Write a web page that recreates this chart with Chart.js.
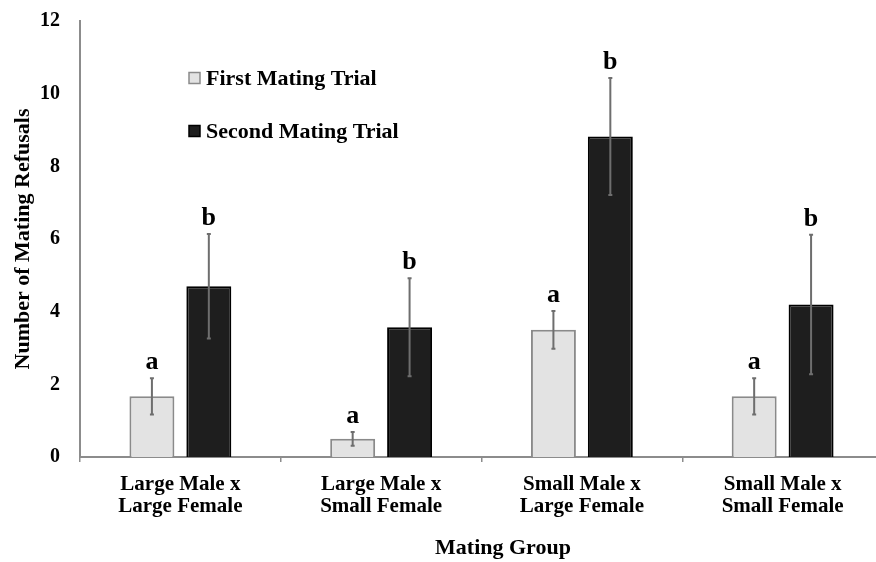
<!DOCTYPE html>
<html>
<head>
<meta charset="utf-8">
<script src="https://cdn.jsdelivr.net/npm/chart.js@4.4.0/dist/chart.umd.min.js"></script>
<style>
  html, body { margin: 0; padding: 0; background: #fff; overflow: hidden; }
  #wrap { width: 884px; height: 562px; position: relative; }
</style>
</head>
<body>
<div id="wrap"><canvas id="graph"></canvas></div>
<script>
// mating groups (two line labels)
var groups = [
  ["Large Male x", "Large Female"],
  ["Large Male x", "Small Female"],
  ["Small Male x", "Large Female"],
  ["Small Male x", "Small Female"]
];
// mean refusals
var firstTrial = [1.67, 0.5, 3.5, 1.67];
var secondTrial = [4.7, 3.57, 8.82, 4.2];
// error bar half lengths
var firstErr = [0.5, 0.19, 0.52, 0.5];
var secondErr = [1.44, 1.35, 1.61, 1.92];
// significance letters
var firstLetters = ["a", "a", "a", "a"];
var secondLetters = ["b", "b", "b", "b"];
var yTicks = [0, 2, 4, 6, 8, 10, 12];

var serif = '"Liberation Serif", "Times New Roman", serif';
var errs = [firstErr, secondErr];
var letters = [firstLetters, secondLetters];

//draws error bars + letters above them
const errorBars = {
  id: "errorBars",
  afterDatasetsDraw(chart) {
    const ctx = chart.ctx;
    const ys = chart.scales.y;
    ctx.save();
    chart.data.datasets.forEach((ds, di) => {
      const meta = chart.getDatasetMeta(di);
      meta.data.forEach((bar, i) => {
        const v = ds.data[i];
        const top = ys.getPixelForValue(v + errs[di][i]);
        const bot = ys.getPixelForValue(v - errs[di][i]);
        ctx.strokeStyle = "#6e6e6e";
        ctx.lineWidth = 2;
        ctx.beginPath();
        ctx.moveTo(bar.x, top); ctx.lineTo(bar.x, bot);
        ctx.moveTo(bar.x - 2, top); ctx.lineTo(bar.x + 2, top);
        ctx.moveTo(bar.x - 2, bot); ctx.lineTo(bar.x + 2, bot);
        ctx.stroke();
        ctx.fillStyle = "#000";
        ctx.font = "bold 26px " + serif;
        ctx.textAlign = "center";
        ctx.textBaseline = "alphabetic";
        ctx.fillText(letters[di][i], bar.x, top - 9);
      });
    });
    ctx.restore();
  },
  afterDraw(chart) {
    const ctx = chart.ctx;
    ctx.save();
    // legend
    const rows = [78, 131];
    chart.data.datasets.forEach((ds, di) => {
      ctx.fillStyle = ds.backgroundColor;
      ctx.strokeStyle = ds.borderColor;
      ctx.lineWidth = 1.5;
      ctx.fillRect(189, rows[di] - 5.5, 11, 11);
      ctx.strokeRect(189, rows[di] - 5.5, 11, 11);
      ctx.fillStyle = "#000";
      ctx.font = "bold 22px " + serif;
      ctx.textAlign = "left";
      ctx.textBaseline = "middle";
      ctx.fillText(ds.label, 206, rows[di] + 1);
    });
    // x axis title
    ctx.font = "bold 22px " + serif;
    ctx.textAlign = "center";
    ctx.textBaseline = "middle";
    ctx.fillText("Mating Group", 503, 548);
    ctx.restore();
  }
};

const graph = new Chart("graph", {
  type: "bar",
  data: {
    labels: groups,
    datasets: [{
      label: "First Mating Trial",
      data: firstTrial,
      backgroundColor: "#e3e3e3",
      borderColor: "#8a8a8a",
      borderWidth: 2
    }, {
      label: "Second Mating Trial",
      data: secondTrial,
      backgroundColor: "#1e1e1e",
      borderColor: "#000",
      borderWidth: 2
    }]
  },
  options: {
    responsive: true,
    maintainAspectRatio: false,
    animation: false,
    categoryPercentage: 0.567,
    barPercentage: 0.79,
    layout: { padding: { top: 21, right: 1, left: 0, bottom: 0 } },
    plugins: { legend: { display: false }, tooltip: { enabled: false } },
    scales: {
      y: {
        min: 0, max: 12,
        afterFit: s => { s.width = 80; s.paddingTop = 0; s.paddingBottom = 0; },
        afterBuildTicks: s => { s.ticks = yTicks.map(v => ({ value: v })); },
        grid: { display: false, drawTicks: false },
        border: { display: true, color: "#8c8c8c", width: 2 },
        ticks: { padding: 20, color: "#000", font: { family: serif, size: 20, weight: "bold" } },
        title: {
          display: true, text: "Number of Mating Refusals", color: "#000",
          padding: { top: 10, bottom: 0 },
          font: { family: serif, size: 22, weight: "bold" }
        }
      },
      x: {
        afterFit: s => { s.height = 105; },
        grid: { drawOnChartArea: false, drawTicks: true, tickLength: 5, color: "#8c8c8c", lineWidth: 1.5 },
        border: { display: true, color: "#8c8c8c", width: 2 },
        ticks: { padding: 12, color: "#000", maxRotation: 0, font: { family: serif, size: 21, weight: "bold", lineHeight: "22px" } }
      }
    }
  },
  plugins: [errorBars]
});
</script>
</body>
</html>
